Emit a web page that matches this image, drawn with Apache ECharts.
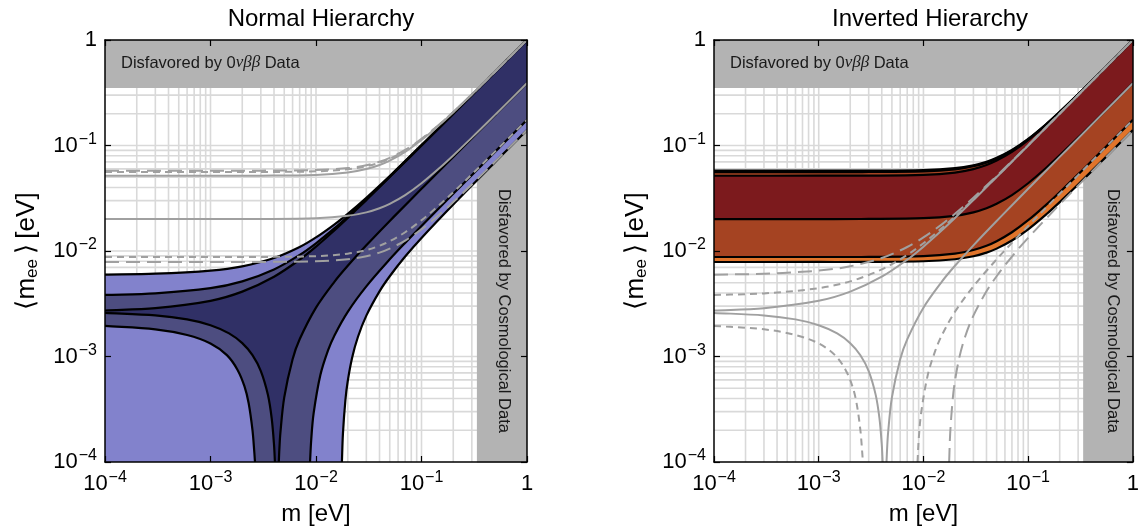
<!DOCTYPE html>
<html>
<head>
<meta charset="utf-8">
<script src="https://cdn.jsdelivr.net/npm/echarts@6/dist/echarts.min.js"></script>
<style>
html, body { margin: 0; padding: 0; background: #fff; }
#chart { width: 1142px; height: 531px; }
</style>
</head>
<body>
<div id="chart"></div>
<script>
// Effective Majorana mass <m_ee> versus the lightest neutrino mass m (both in eV).
const FONT = '"Liberation Sans", Arial, Helvetica, sans-serif';
const decadeExponents = [-4, -3, -2, -1, 0];
const gridMantissas = [1, 2, 3, 4, 5, 6, 7, 8, 9];
const titles = ['Normal Hierarchy', 'Inverted Hierarchy'];

// Excluded regions
const betaLimit = 0.35;    // <m_ee> above this is disfavored by 0vbb data
const cosmoLimit = 0.335;  // m above this is disfavored by cosmology

// ---- Normal hierarchy: band boundaries, [m, m_ee] ----
const nhUpper3 = [[1e-4,0.00597],[3e-4,0.00609],[1e-3,0.00652],[2e-3,0.00716],[4e-3,0.00857],[7e-3,0.01091],[0.01,0.01345],[0.015,0.0179],[0.02,0.02252],[0.03,0.032],[0.05,0.0514],[0.1,0.1008],[0.2,0.2004],[0.5,0.5002],[1,1.0001]];
const nhUpper2 = [[1e-4,0.00383],[3e-4,0.003963],[1e-3,0.004442],[2e-3,0.005157],[4e-3,0.006687],[7e-3,0.009182],[0.01,0.011841],[0.015,0.016472],[0.02,0.021236],[0.03,0.030943],[0.05,0.050639],[0.1,0.100347],[0.2,0.200178],[0.5,0.50003],[1,1.0]];
const nhUpper1 = [[1e-4,0.002729],[3e-4,0.002869],[1e-3,0.003371],[2e-3,0.004118],[4e-3,0.005706],[7e-3,0.008275],[0.01,0.010996],[0.015,0.015717],[0.02,0.020554],[0.03,0.030379],[0.05,0.05023],[0.1,0.100116],[0.2,0.200058],[0.5,0.5],[1,1.0]];
const nhLower1 = [[1e-4,0.00259],[3e-4,0.002452],[6e-4,0.002248],[1e-3,0.001981],[1.5e-3,0.001656],[2e-3,0.001338],[2.5e-3,0.001029],[3e-3,0.000727],[3.5e-3,0.000433],[3.8e-3,0.00026],[4.0e-3,0.000146],[4.08e-3,0.0001]];
const nhRight1 = [[0.00444,0.0001],[0.0045,0.000135],[0.0046,0.000191],[0.005,0.00041],[0.006,0.000942],[0.007,0.001455],[0.01,0.002904],[0.015,0.005133],[0.02,0.007246],[0.03,0.011321],[0.05,0.01927],[0.1,0.038884],[0.2,0.077942],[0.5,0.194977],[1,0.389988]];
const nhLower2 = [[1e-4,0.00195],[3e-4,0.00181],[6e-4,0.0016],[1e-3,0.00133],[1.43e-3,0.00103],[1.8e-3,0.00075],[2.1e-3,0.00052],[2.3e-3,0.00036],[2.5e-3,0.0002],[2.6e-3,0.000125],[2.64e-3,0.0001]];
const nhRight2 = [[0.00878,0.0001],[0.009,0.00016],[0.0095,0.00029],[0.011,0.000667],[0.013,0.001142],[0.015,0.001593],[0.02,0.002652],[0.03,0.004622],[0.05,0.008335],[0.07,0.011941],[0.1,0.017278],[0.2,0.034887],[0.5,0.087454],[1,0.174977]];
const nhRight3 = [[0.0176,0.0001],[0.018,0.000185],[0.019,0.000387],[0.02,0.000586],[0.022,0.000975],[0.025,0.001539],[0.03,0.00244],[0.04,0.004144],[0.05,0.005764],[0.07,0.008859],[0.1,0.013314],[0.2,0.027645],[0.5,0.069856],[1,0.139928]];

// ---- Inverted hierarchy: band boundaries, [m, m_ee] ----
const ihUpper3 = [[1e-4,0.0577],[1e-3,0.05771],[3e-3,0.05778],[0.01,0.05856],[0.02,0.06107],[0.03,0.06503],[0.04,0.07021],[0.05,0.07635],[0.07,0.09072],[0.1,0.11545],[0.15,0.16072],[0.2,0.20816],[0.3,0.3055],[0.5,0.50332],[0.7,0.70237],[1,1.00166]];
const ihUpper2 = [[1e-4,0.056],[1e-3,0.05601],[3e-3,0.05608],[0.01,0.05689],[0.02,0.05946],[0.03,0.06353],[0.04,0.06882],[0.05,0.07507],[0.07,0.08964],[0.1,0.11461],[0.15,0.16011],[0.2,0.20769],[0.3,0.30518],[0.5,0.50313],[0.7,0.70224],[1,1.00157]];
const ihUpper1 = [[1e-4,0.0517],[1e-3,0.05171],[3e-3,0.05179],[0.01,0.05266],[0.02,0.05543],[0.03,0.05977],[0.04,0.06537],[0.05,0.07192],[0.07,0.08702],[0.1,0.11257],[0.15,0.15866],[0.2,0.20657],[0.3,0.30442],[0.5,0.50267],[0.7,0.70191],[1,1.00134]];
const ihLower1 = [[1e-4,0.02009],[1e-3,0.02009],[3e-3,0.02012],[0.01,0.02046],[0.02,0.02155],[0.03,0.02324],[0.04,0.02543],[0.05,0.02799],[0.07,0.03389],[0.1,0.04387],[0.15,0.06185],[0.2,0.08054],[0.3,0.11871],[0.5,0.19603],[0.7,0.27374],[1,0.39052]];
const ihLower2 = [[1e-4,0.008768],[1e-3,0.00877],[3e-3,0.008783],[0.01,0.00894],[0.02,0.00944],[0.03,0.010219],[0.04,0.011219],[0.05,0.012387],[0.07,0.015064],[0.1,0.019573],[0.15,0.027676],[0.2,0.036082],[0.3,0.053227],[0.5,0.087938],[0.7,0.122813],[1,0.175219]];
const ihLower3 = [[1e-4,0.007868],[1e-3,0.00787],[3e-3,0.007879],[0.01,0.007992],[0.02,0.008351],[0.03,0.008919],[0.04,0.009658],[0.05,0.010531],[0.07,0.012568],[0.1,0.016059],[0.15,0.022426],[0.2,0.029084],[0.3,0.042731],[0.5,0.070441],[0.7,0.098315],[1,0.140221]];

// ---------------------------------------------------------------
const GRIDS = [
  { left: 105, top: 40, width: 422, height: 422 },
  { left: 714, top: 40, width: 422, height: 422 }
];
const COLORS = {
  nh: ['#8282cc', '#4d4d80', '#303066'],
  ih: ['#e0742b', '#a54322', '#7c1a1d'],
  grid: '#d9d9d9',
  excluded: '#b3b3b3',
  other: '#a0a0a0'
};
const LONG_DASH = [14, 7];
const SHORT_DASH = [7, 5];

const rev = a => a.slice().reverse();

// smooth path through pixel points (tangent-aligned cubic segments)
function unit(a, b) {
  const dx = b[0] - a[0], dy = b[1] - a[1];
  const l = Math.hypot(dx, dy) || 1;
  return [dx / l, dy / l];
}
function smoothThrough(px) {
  const n = px.length;
  const tan = px.map((p, i) => unit(px[Math.max(i - 1, 0)], px[Math.min(i + 1, n - 1)]));
  let d = '';
  for (let i = 0; i < n - 1; i++) {
    const a = px[i], b = px[i + 1];
    const L = Math.hypot(b[0] - a[0], b[1] - a[1]) / 3;
    d += ' C' + (a[0] + tan[i][0] * L) + ' ' + (a[1] + tan[i][1] * L) + ' ' +
         (b[0] - tan[i + 1][0] * L) + ' ' + (b[1] - tan[i + 1][1] * L) + ' ' + b[0] + ' ' + b[1];
  }
  return d;
}
function buildPath(api, parts, close) {
  let d = '';
  parts.forEach((part, k) => {
    const px = part.map(p => api.coord(p));
    d += (k === 0 ? 'M' : ' L') + px[0][0] + ' ' + px[0][1];
    d += smoothThrough(px);
  });
  return close ? d + ' Z' : d;
}

function pathSeries(gi, parts, style, z, close) {
  return {
    type: 'custom', coordinateSystem: 'cartesian2d',
    xAxisIndex: gi * 2, yAxisIndex: gi * 2,
    clip: true, silent: true, z: z,
    data: [parts[0][0]],
    renderItem: (params, api) => ({
      type: 'path',
      shape: { pathData: buildPath(api, parts, close) },
      style: style
    })
  };
}
const band = (gi, parts, color, z) => pathSeries(gi, parts, { fill: color, stroke: null }, z, true);
const blackLine = (gi, pts) => pathSeries(gi, [pts], { fill: 'none', stroke: '#000', lineWidth: 2.2 }, 6, false);
const otherLine = (gi, pts, dash) => pathSeries(gi, [pts], { fill: 'none', stroke: COLORS.other, lineWidth: 2, lineDash: dash || null }, 7, false);

// grid lines at 1..9 x each decade
const gridValues = [];
decadeExponents.slice(0, -1).forEach(e => gridMantissas.forEach(k => {
  const v = k * Math.pow(10, e);
  if (!(e === -4 && k === 1)) gridValues.push(v);
}));

function gridLineSeries(gi) {
  return {
    type: 'custom', coordinateSystem: 'cartesian2d',
    xAxisIndex: gi * 2, yAxisIndex: gi * 2, silent: true, z: 1,
    data: [[1e-4, 1e-4]],
    renderItem: (params, api) => {
      const lo = api.coord([1e-4, 1e-4]), hi = api.coord([1, 1]);
      const children = [];
      gridValues.forEach(v => {
        const p = api.coord([v, v]);
        const st = { stroke: COLORS.grid, lineWidth: 1.6 };
        children.push({ type: 'line', shape: { x1: p[0], y1: lo[1], x2: p[0], y2: hi[1] }, style: st });
        children.push({ type: 'line', shape: { x1: lo[0], y1: p[1], x2: hi[0], y2: p[1] }, style: st });
      });
      return { type: 'group', children: children };
    }
  };
}

function excludedSeries(gi) {
  return {
    type: 'custom', coordinateSystem: 'cartesian2d',
    xAxisIndex: gi * 2, yAxisIndex: gi * 2, silent: true, z: 2,
    data: [[cosmoLimit, betaLimit]],
    renderItem: (params, api) => {
      const tl = api.coord([1e-4, 1]), br = api.coord([1, betaLimit]);
      const cl = api.coord([cosmoLimit, 1e-4]);
      const st = { fill: COLORS.excluded };
      return {
        type: 'group', children: [
          { type: 'rect', shape: { x: tl[0], y: tl[1], width: br[0] - tl[0], height: br[1] - tl[1] }, style: st },
          { type: 'rect', shape: { x: cl[0], y: br[1], width: br[0] - cl[0], height: cl[1] - br[1] + 0.5 }, style: st }
        ]
      };
    }
  };
}

const labelRich = {
  b: { fontSize: 22, fontFamily: FONT, color: '#000', lineHeight: 28, verticalAlign: 'middle' },
  s: { fontSize: 16, fontFamily: FONT, color: '#000', lineHeight: 17, verticalAlign: 'top', padding: [0, 0, 0, 1] }
};
function tickLabel(value) {
  const e = Math.round(Math.log10(value));
  return e === 0 ? '{b|1}' : '{b|10}{s|\u2212' + (-e) + '}';
}

const xAxes = [], yAxes = [];
GRIDS.forEach((g, gi) => {
  const base = {
    type: 'log', logBase: 10, min: 1e-4, max: 1, gridIndex: gi, z: 10,
    splitLine: { show: false },
    axisLine: { show: true, onZero: false, lineStyle: { color: '#000', width: 1.5 } },
    axisTick: { show: true, inside: true, length: 6, lineStyle: { color: '#000', width: 1.2 } }
  };
  xAxes.push(Object.assign({}, base, {
    position: 'bottom',
    axisLabel: { formatter: tickLabel, rich: labelRich, margin: 8, showMinLabel: true, showMaxLabel: true },
    name: 'm [eV]', nameLocation: 'middle', nameGap: 40,
    nameTextStyle: { fontSize: 24, fontFamily: FONT, color: '#000' }
  }));
  xAxes.push(Object.assign({}, base, { position: 'top', axisLabel: { show: false } }));
  yAxes.push(Object.assign({}, base, {
    position: 'left',
    axisLabel: { formatter: tickLabel, rich: labelRich, margin: 8, showMinLabel: true, showMaxLabel: true },
    name: '\u27E8m{sub|ee}\u2009\u27E9\u2009[eV]', nameLocation: 'middle', nameGap: 64,
    nameTextStyle: {
      fontSize: 26, fontFamily: FONT, color: '#000',
      rich: { sub: { fontSize: 17, fontFamily: FONT, color: '#000', padding: [11, 0, 0, 0] } }
    }
  }));
  yAxes.push(Object.assign({}, base, { position: 'right', axisLabel: { show: false } }));
});

const series = [];
[0, 1].forEach(gi => { series.push(gridLineSeries(gi)); series.push(excludedSeries(gi)); });

// Normal hierarchy panel
series.push(band(0, [nhUpper3, rev(nhRight3), [[1e-4, 1e-4]]], COLORS.nh[0], 3));
series.push(band(0, [nhUpper2, rev(nhRight2), rev(nhLower2)], COLORS.nh[1], 4));
series.push(band(0, [nhUpper1, rev(nhRight1), rev(nhLower1)], COLORS.nh[2], 5));
[nhUpper3, nhUpper2, nhUpper1, nhLower1, nhRight1, nhLower2, nhRight2, nhRight3].forEach(c => series.push(blackLine(0, c)));
series.push(otherLine(0, ihUpper3, LONG_DASH));
series.push(otherLine(0, ihUpper2, SHORT_DASH));
series.push(otherLine(0, ihUpper1));
series.push(otherLine(0, ihLower1));
series.push(otherLine(0, ihLower2, SHORT_DASH));
series.push(otherLine(0, ihLower3, LONG_DASH));

// Inverted hierarchy panel
series.push(band(1, [ihUpper3, rev(ihLower3)], COLORS.ih[0], 3));
series.push(band(1, [ihUpper2, rev(ihLower2)], COLORS.ih[1], 4));
series.push(band(1, [ihUpper1, rev(ihLower1)], COLORS.ih[2], 5));
[ihUpper3, ihUpper2, ihUpper1, ihLower1, ihLower2, ihLower3].forEach(c => series.push(blackLine(1, c)));
series.push(otherLine(1, nhUpper3, LONG_DASH));
series.push(otherLine(1, nhUpper2, SHORT_DASH));
series.push(otherLine(1, nhUpper1));
series.push(otherLine(1, nhLower1));
series.push(otherLine(1, nhRight1));
series.push(otherLine(1, nhLower2, SHORT_DASH));
series.push(otherLine(1, nhRight2, SHORT_DASH));
series.push(otherLine(1, nhRight3, LONG_DASH));

// region captions
const graphics = [];
GRIDS.forEach(g => {
  graphics.push({
    type: 'text', x: g.left + 16, y: 63, z: 20, silent: true,
    style: {
      text: 'Disfavored by 0{g|\u03BD\u03B2\u03B2} Data',
      fontSize: 16.5, fontFamily: FONT, fill: '#1a1a1a',
      textAlign: 'left', textVerticalAlign: 'middle',
      rich: { g: { fontSize: 17, fontFamily: '"Liberation Serif", "DejaVu Serif", serif', fontStyle: 'italic', fill: '#1a1a1a' } }
    }
  });
  graphics.push({
    type: 'text', x: g.left + g.width - 23, y: 311, z: 20, silent: true, rotation: -Math.PI / 2,
    style: {
      text: 'Disfavored by Cosmological Data',
      fontSize: 16.5, fontFamily: FONT, fill: '#1a1a1a',
      textAlign: 'center', textVerticalAlign: 'middle'
    }
  });
});

const chart = echarts.init(document.getElementById('chart'), null, { renderer: 'canvas' });
chart.setOption({
  animation: false,
  backgroundColor: '#fff',
  title: GRIDS.map((g, i) => ({
    text: titles[i], left: g.left + g.width / 2, top: 2, textAlign: 'center',
    textStyle: { fontSize: 24, fontWeight: 'normal', fontFamily: FONT, color: '#000' }
  })),
  grid: GRIDS.map(g => Object.assign({ containLabel: false }, g)),
  xAxis: xAxes,
  yAxis: yAxes,
  series: series,
  graphic: graphics
});
</script>
</body>
</html>
